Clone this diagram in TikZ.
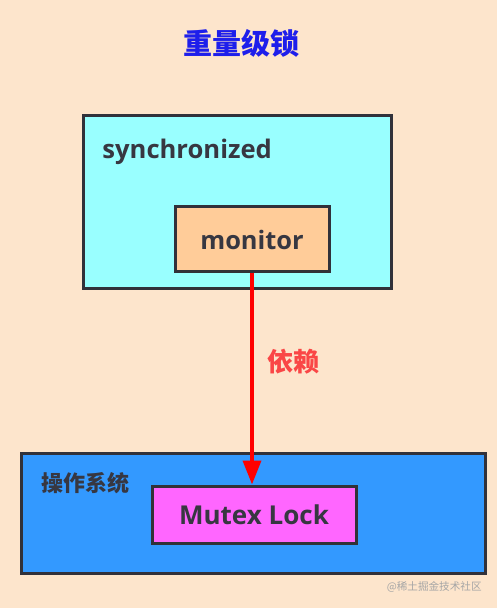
\documentclass[tikz,border=0pt]{standalone}
\usepackage{fontspec}
\setmainfont{Open Sans}
\newfontfamily\cjk{Noto Sans CJK SC}
\usepackage{tikz}
\usetikzlibrary{positioning,arrows.meta}
\definecolor{bgpeach}{RGB}{253,229,204}
\definecolor{boxcyan}{RGB}{153,255,255}
\definecolor{boxpeach}{RGB}{255,204,153}
\definecolor{boxblue}{RGB}{51,153,255}
\definecolor{boxpink}{RGB}{255,102,255}
\definecolor{darktext}{RGB}{55,55,65}
\definecolor{titleblue}{RGB}{30,30,235}
\definecolor{deptext}{RGB}{250,70,70}
\tikzset{main box/.style={rectangle,draw=darktext!90!black,line width=1.5pt,inner sep=0pt,
           text=darktext},
         box label/.style={anchor=west,inner sep=0pt,text=darktext},
         dep arrow/.style={draw=red,line width=1.8pt,-{Triangle[length=12pt,width=9pt]}},}

\begin{document}
\begin{tikzpicture}[x=0.5pt,y=-0.5pt]
      \fill[bgpeach] (0,0) rectangle (497,608);

      \node[font=\cjk\bfseries\fontsize{14.5}{16}\selectfont,text=titleblue] (title) at (241,43) {重量级锁};

      %\node for the java side
      \node[main box,fill=boxcyan,minimum width=154pt,minimum height=86.5pt] (sync) at (237,202.5) {};
      \node[box label,font=\bfseries\fontsize{12.8}{14}\selectfont] (synctext) at (102,152) {synchronized};
      \node[main box,fill=boxpeach,minimum width=77pt,minimum height=32.5pt,
            font=\bfseries\fontsize{12.7}{14}\selectfont] (monitor) at (252,239.5) {monitor};

      %\node for the os side
      \node[main box,fill=boxblue,minimum width=232pt,minimum height=60pt] (os) at (253.5,513) {};
      \node[box label,font=\cjk\bfseries\fontsize{11}{13}\selectfont] (ostext) at (41,483) {操作系统};
      \node[main box,fill=boxpink,minimum width=102pt,minimum height=28.5pt,
            font=\bfseries\fontsize{13}{15}\selectfont] (mutex) at (254,514.5) {Mutex Lock};

      \draw[dep arrow] (monitor.south) -- (monitor.south |- mutex.north);
      \node[font=\cjk\bfseries\fontsize{13}{15}\selectfont,text=deptext] (dep) at (293,362) {依赖};

      \node[anchor=east,inner sep=0pt,font=\cjk\fontsize{5.3}{6}\selectfont,text=black!35] (mark) at (482,587) {@稀土掘金技术社区};

    \end{tikzpicture}
\end{document}
